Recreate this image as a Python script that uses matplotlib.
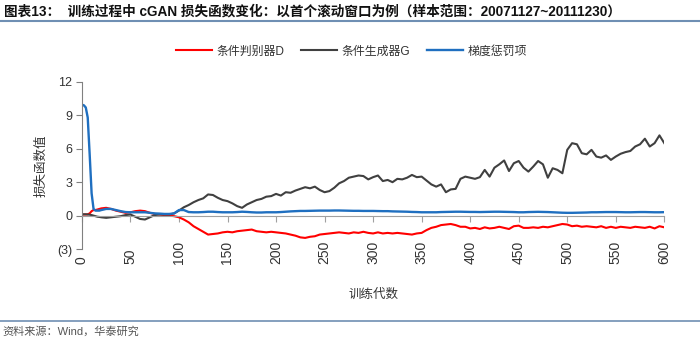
import numpy as np
import matplotlib.pyplot as plt
from matplotlib.lines import Line2D

plt.rcParams['font.family'] = ['Liberation Sans', 'Noto Sans CJK SC']
plt.rcParams['axes.unicode_minus'] = False

# epochs: fine steps during the first drop, then every 5
epochs_early = [0, 2, 4, 6, 8, 10, 12, 14, 16, 18, 20]
epochs_main = list(range(25, 601, 5))

d_early = [0.1, 0.1, 0.1, 0.12, 0.2, 0.4, 0.5, 0.5, 0.55, 0.6, 0.65]
g_early = [0.1, 0.12, 0.12, 0.1, 0.08, 0.05, 0.0, -0.05, -0.1, -0.12, -0.15]
gp_early = [9.95, 9.9, 9.7, 8.8, 5.5, 2.0, 0.6, 0.45, 0.45, 0.45, 0.5]

# 条件判别器D
d_main = [
    0.7, 0.6, 0.45, 0.35, 0.25, 0.3, 0.4, 0.45, 0.4, 0.25,
    0.15, 0.1, 0.05, 0.0, -0.05, -0.15, -0.35, -0.6, -0.95, -1.2,
    -1.45, -1.7, -1.65, -1.6, -1.5, -1.45, -1.5, -1.4, -1.35, -1.3,
    -1.25, -1.4, -1.45, -1.5, -1.45, -1.5, -1.55, -1.6, -1.7, -1.8,
    -1.95, -2.0, -1.9, -1.85, -1.7, -1.65, -1.6, -1.55, -1.5, -1.55,
    -1.6, -1.5, -1.55, -1.45, -1.55, -1.6, -1.5, -1.6, -1.55, -1.6,
    -1.55, -1.6, -1.65, -1.7, -1.6, -1.55, -1.3, -1.1, -1.0, -0.85,
    -0.8, -0.75, -0.85, -1.0, -1.0, -1.15, -1.1, -1.2, -1.05, -1.15,
    -1.1, -1.0, -1.1, -1.2, -0.95, -0.9, -1.1, -1.1, -1.05, -1.1,
    -1.0, -1.05, -0.95, -0.85, -0.75, -0.8, -0.95, -0.9, -1.0, -0.95,
    -1.0, -1.05, -0.95, -1.1, -1.0, -1.1, -1.0, -1.05, -1.1, -1.0,
    -1.05, -1.1, -1.0, -1.15, -0.95, -1.05,
]

# 条件生成器G
g_main = [
    -0.2, -0.15, -0.1, -0.05, 0.05, 0.1, -0.1, -0.3, -0.35, -0.15,
    0.05, 0.1, 0.1, 0.1, 0.2, 0.45, 0.75, 0.95, 1.2, 1.4,
    1.55, 1.9, 1.85, 1.6, 1.4, 1.3, 1.1, 0.85, 0.7, 1.0,
    1.2, 1.4, 1.5, 1.7, 1.75, 1.95, 1.8, 2.1, 2.05, 2.25,
    2.4, 2.55, 2.45, 2.6, 2.3, 2.1, 2.2, 2.5, 2.9, 3.1,
    3.4, 3.5, 3.6, 3.55, 3.25, 3.45, 3.6, 3.1, 3.2, 3.0,
    3.3, 3.25, 3.4, 3.65, 3.45, 3.5, 3.15, 2.8, 2.6, 2.8,
    2.1, 2.35, 2.4, 3.3, 3.5, 3.4, 3.3, 3.45, 4.1, 3.5,
    4.3, 4.6, 4.95, 4.0, 4.7, 4.9, 4.3, 3.95, 4.4, 4.9,
    4.6, 3.4, 4.25, 4.1, 3.8, 5.9, 6.5, 6.4, 5.6, 5.5,
    5.9, 5.3, 5.2, 5.4, 5.0, 5.3, 5.55, 5.7, 5.8, 6.2,
    6.4, 6.9, 6.2, 6.5, 7.2, 6.5,
]

# 梯度惩罚项
gp_main = [
    0.6, 0.6, 0.5, 0.4, 0.32, 0.3, 0.3, 0.3, 0.3, 0.25,
    0.2, 0.18, 0.15, 0.15, 0.2, 0.5, 0.5, 0.32, 0.3, 0.3,
    0.32, 0.35, 0.35, 0.32, 0.3, 0.3, 0.3, 0.32, 0.35, 0.33,
    0.3, 0.28, 0.28, 0.3, 0.3, 0.3, 0.32, 0.35, 0.38, 0.4,
    0.42, 0.42, 0.43, 0.44, 0.45, 0.45, 0.45, 0.46, 0.46, 0.45,
    0.44, 0.43, 0.43, 0.42, 0.42, 0.42, 0.41, 0.4, 0.4, 0.38,
    0.37, 0.36, 0.35, 0.33, 0.32, 0.3, 0.3, 0.3, 0.3, 0.32,
    0.33, 0.34, 0.35, 0.35, 0.34, 0.33, 0.33, 0.32, 0.33, 0.34,
    0.35, 0.35, 0.34, 0.33, 0.32, 0.3, 0.3, 0.32, 0.33, 0.34,
    0.33, 0.32, 0.3, 0.28, 0.26, 0.25, 0.25, 0.26, 0.27, 0.28,
    0.3, 0.3, 0.31, 0.32, 0.32, 0.32, 0.31, 0.3, 0.3, 0.31,
    0.32, 0.32, 0.31, 0.3, 0.3, 0.31,
]

epochs = epochs_early + epochs_main
loss_d = d_early + d_main
loss_g = g_early + g_main
loss_gp = gp_early + gp_main

fig = plt.figure(figsize=(7, 3.44), dpi=100)
ax = fig.add_axes([0.117, 0.276, 0.832, 0.486])

ax.plot(epochs, loss_d, color='#ff0000', lw=1.5, label='条件判别器D')
ax.plot(epochs, loss_g, color='#404040', lw=1.5, label='条件生成器G')
ax.plot(epochs, loss_gp, color='#1f6fc0', lw=1.7, label='梯度惩罚项')

ax.set_xlim(0, 600)
ax.set_ylim(-3, 12)
ax.set_yticks([-3, 0, 3, 6, 9, 12])
ax.set_yticklabels(['(3)', '0', '3', '6', '9', '12'])
ax.set_xticks(range(0, 601, 50))

for s in ['top', 'right']:
    ax.spines[s].set_visible(False)
ax.spines['bottom'].set_position(('data', 0))
ax.spines['bottom'].set_color('#a0a0a0')
ax.spines['left'].set_color('#808080')
ax.tick_params(axis='y', direction='out', length=4, color='#808080',
               labelsize=9, labelcolor='#333333', pad=3)
ax.tick_params(axis='x', direction='out', length=4, color='#a0a0a0',
               labelsize=10, labelcolor='#333333', pad=31)
for lbl in ax.get_xticklabels():
    lbl.set_rotation(90)
    lbl.set_va('bottom')

ax.set_ylabel('损失函数值', fontsize=9, color='#333333', labelpad=7)
ax.set_xlabel('训练代数', fontsize=9, color='#333333')
ax.xaxis.set_label_coords(0.5, -0.235)

fig.legend(loc='center', bbox_to_anchor=(0.502, 0.85), ncol=3, frameon=False,
           fontsize=8.6, handlelength=3.0, columnspacing=1.4, handletextpad=0.4,
           labelcolor='#333333')

fig.text(0.005, 0.966, '图表13：  训练过程中 cGAN 损失函数变化：以首个滚动窗口为例（样本范围：20071127~20111230）',
         fontsize=9.8, fontweight='bold', va='center', ha='left', color='#111111')
fig.add_artist(Line2D([0, 1], [0.94, 0.94], transform=fig.transFigure,
                      color='#6f8fb3', lw=1.5))
fig.add_artist(Line2D([0, 1], [0.068, 0.068], transform=fig.transFigure,
                      color='#6f8fb3', lw=1.2))
fig.text(0.004, 0.036, '资料来源：Wind，华泰研究', fontsize=8, va='center',
         ha='left', color='#555555')

fig.savefig('out.png', dpi=100)
